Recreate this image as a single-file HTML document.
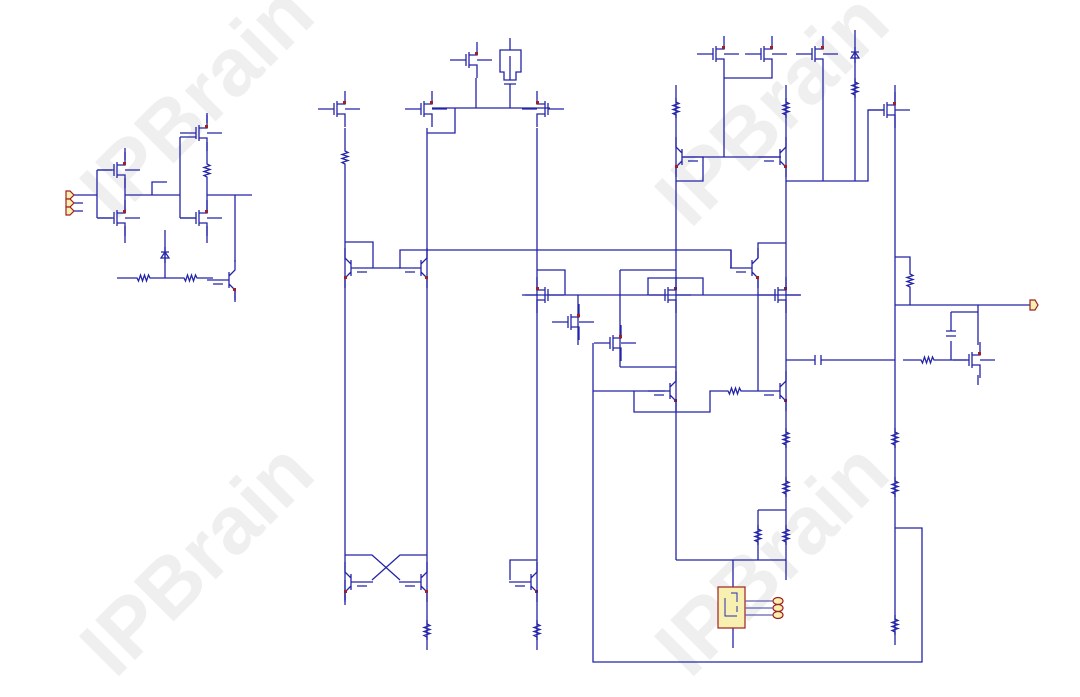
<!DOCTYPE html>
<html><head><meta charset="utf-8"><style>
html,body{margin:0;padding:0;background:#fff;}
svg{display:block}
.w{font-family:"Liberation Sans",sans-serif;font-weight:bold;font-size:82px;fill:#efefef}
</style></head><body>
<svg width="1080" height="697" viewBox="0 0 1080 697" xmlns="http://www.w3.org/2000/svg">
<defs>
<g id="rv" fill="none"><path d="M0,-10V-6l3,1.5-6,2 6,2-6,2 6,2-6,2 3,1.5V10"/></g>
<g id="rh" fill="none"><path d="M-10,0H-6l1.5,3 2,-6 2,6 2,-6 2,6 2,-6 1.5,3H10"/></g>
<g id="mos" fill="none"><path d="M-22,0H-6M-6,-6V6M-3,-8V8M-3,-5H5V-18M-3,5H5V18M5,0H20"/><rect x="3" y="-8" width="3" height="3" fill="#a02020" stroke="none"/></g>
<g id="mosr" fill="none"><path d="M22,0H6M6,-6V6M3,-8V8M3,-5H-5V-18M3,5H-5V18M-5,0H-20"/><rect x="-6" y="-8" width="3" height="3" fill="#a02020" stroke="none"/></g>
<g id="bjt" fill="none"><path d="M-22,0H0M0,-8V8M0,-4L6,-10V-20M0,4L6,10V20M-16,4H-6"/><rect x="4" y="8" width="3" height="3" fill="#a02020" stroke="none"/></g>
<g id="bjtr" fill="none"><path d="M22,0H0M0,-8V8M0,-4L-6,-10V-20M0,4L-6,10V20M16,4H6"/><rect x="-7" y="8" width="3" height="3" fill="#a02020" stroke="none"/></g>
<g id="dio" fill="none"><path d="M0,-8V8M-4,3H4L0,-3Z M-4,-3H4"/></g>
</defs>
<g class="w">
<text transform="translate(115,222) rotate(-45)">IPBrain</text>
<text transform="translate(690,230) rotate(-45)">IPBrain</text>
<text transform="translate(115,680) rotate(-45)">IPBrain</text>
<text transform="translate(690,680) rotate(-45)">IPBrain</text>
</g>
<g stroke="#2424a8" stroke-width="1.3" fill="none">
<!-- left block -->
<path d="M73,195H97M97,170V218M97,170H112M97,218H112M125,148V160M125,178V210M125,226V243M125,195H180M152,195V182H167M180,137V218M180,137H196M180,218H196M207,113V123M207,142V160M207,180V210M207,226V243M207,195H252M235,195V262M235,290V302M117,278H133M153,278H180M200,278H213M165,230V278"/>
<path d="M73,203H83M73,211H83"/>
<use href="#mos" x="120" y="170"/><use href="#mos" x="120" y="218"/>
<use href="#mos" x="202" y="133"/><use href="#mos" x="202" y="218"/>
<use href="#rv" x="207" y="170"/><use href="#rh" x="143" y="278"/><use href="#rh" x="190" y="278"/>
<use href="#bjt" x="229" y="280"/><use href="#dio" x="165" y="255"/>
<!-- middle top -->
<use href="#mos" x="340" y="109"/><use href="#mos" x="427" y="109"/><use href="#mos" x="472" y="60"/><use href="#mosr" x="542" y="109"/>
<path d="M345,128V147M345,167V600M427,128V650M432,108H550M455,108V133H427M476,78V108M510,38V50M500,50H521V72H516V80H504V72H500Z M510,56V80M504,84H516M510,84V108"/>
<use href="#rv" x="345" y="157"/>
<path d="M345,242H373V268H400V250H731V268"/>
<use href="#bjtr" x="351" y="268"/><use href="#bjt" x="421" y="268"/>
<path d="M345,555H372L400,580M427,555H400L372,580M345,580V605M537,560H510V580"/>
<use href="#bjtr" x="351" y="582"/><use href="#bjt" x="421" y="582"/><use href="#bjt" x="531" y="582"/>
<path d="M537,128V650"/>
<use href="#rv" x="427" y="630"/><use href="#rv" x="537" y="630"/>
<!-- middle -->
<path d="M537,270H565V295M525,295H800M578,295V345M620,270V367M620,270H676M648,295V278H703V295M593,343V662H922V528H895M620,367H676M593,391H665M634,391V412H710V391H724M744,391H758"/>
<use href="#mosr" x="542" y="295"/><use href="#mos" x="574" y="322"/><use href="#mos" x="616" y="343"/>
<use href="#mos" x="671" y="295"/><use href="#mos" x="781" y="295"/>
<use href="#bjt" x="670" y="391"/><use href="#bjt" x="780" y="391"/><use href="#rh" x="734" y="391"/>
<!-- right top -->
<use href="#mos" x="719" y="54"/><use href="#mos" x="767" y="54"/><use href="#mos" x="818" y="54"/>
<path d="M724,72V157M772,72V78H724M823,72V181M855,30V181M676,85V157M786,85V157M683,157H781M703,157V181H676M676,157V560M786,157V580M786,181H868V110H884M895,85V645"/>
<use href="#dio" x="855" y="55"/><use href="#rv" x="855" y="88"/><use href="#rv" x="676" y="108"/><use href="#rv" x="786" y="108"/>
<use href="#bjtr" x="682" y="157"/><use href="#bjt" x="780" y="157"/><use href="#mos" x="890" y="110"/>
<path d="M731,268V250M758,258V243H786M758,278V391"/>
<use href="#bjt" x="752" y="268"/>
<path d="M895,257H910V270M910,290V305M895,305H1030M978,305V345M951,312H978M951,312V331M951,341V360M903,360H917M937,360H967M978,375V385M786,360H815M821,360H895"/>
<path d="M815,355V365M821,355V365M946,331H956M946,336H956"/>
<use href="#rv" x="910" y="280"/><use href="#rh" x="927" y="360"/><use href="#mos" x="975" y="360"/>
<!-- bottom right -->
<path d="M786,560H676M758,510H786M758,510V560M733,560V587M733,628V648"/>
<use href="#rv" x="786" y="438"/><use href="#rv" x="786" y="487"/><use href="#rv" x="786" y="535"/><use href="#rv" x="758" y="535"/>
<use href="#rv" x="895" y="438"/><use href="#rv" x="895" y="487"/><use href="#rv" x="895" y="625"/>
</g>
<path d="M1030,300H1035L1038,305L1035,310H1030Z" fill="#f7f0b0" stroke="#a02020" stroke-width="1.2"/>
<g fill="#f7f0b0" stroke="#a02020" stroke-width="1.2">
<path d="M66,191H70L74,195L70,199H66Z"/><path d="M66,199H70L74,203L70,207H66Z"/><path d="M66,207H70L74,211L70,215H66Z"/>
<rect x="718" y="587" width="27" height="41"/>
<ellipse cx="778" cy="601" rx="5" ry="3.5"/><ellipse cx="778" cy="608" rx="5" ry="3.5"/><ellipse cx="778" cy="615" rx="5" ry="3.5"/>
</g>
<path d="M745,601H773M745,608H773M745,615H773" stroke="#6060b0" stroke-width="1.2"/>
<path d="M731,593H737V602M725,598V616H737M737,606V612" stroke="#2a2ab4" stroke-width="1" fill="none"/>
</svg>
</body></html>
